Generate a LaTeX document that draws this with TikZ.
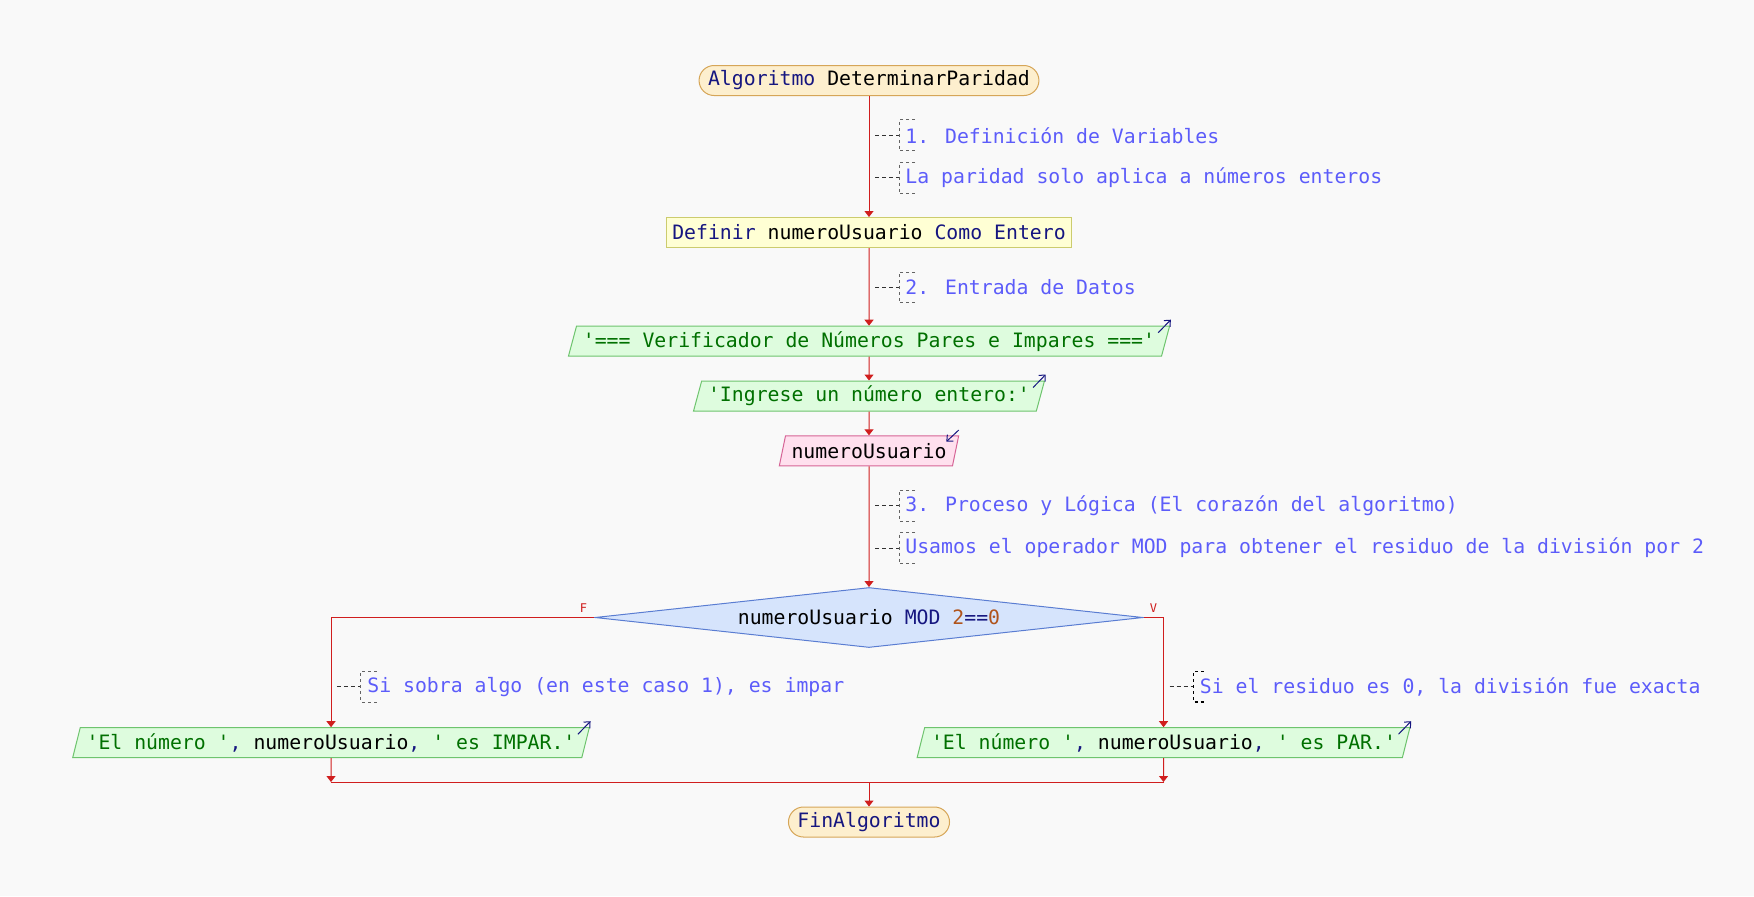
\documentclass[tikz,border=0pt]{standalone}
\usepackage{fontspec}
\usepackage{tikz}
\usetikzlibrary{arrows.meta}
\usetikzlibrary{positioning}
\usetikzlibrary{shapes.geometric}
\newfontfamily\mono{DejaVu Sans Mono}[Ligatures=TeXOff]
\definecolor{fondo}{RGB}{249,249,249}
\definecolor{azulkw}{RGB}{22,22,128}
\definecolor{verdecad}{RGB}{0,112,0}
\definecolor{nrocol}{RGB}{176,84,28}
\definecolor{coment}{RGB}{92,92,250}
\definecolor{rojo}{RGB}{208,30,30}
\definecolor{bordeTerm}{RGB}{214,166,88}
\definecolor{rellenoTerm}{RGB}{253,239,206}
\definecolor{bordeProc}{RGB}{204,204,110}
\definecolor{rellenoProc}{RGB}{255,255,212}
\definecolor{bordeSal}{RGB}{110,196,110}
\definecolor{rellenoSal}{RGB}{222,252,222}
\definecolor{bordeEnt}{RGB}{214,100,150}
\definecolor{rellenoEnt}{RGB}{255,224,238}
\definecolor{bordeDec}{RGB}{90,125,210}
\definecolor{rellenoDec}{RGB}{214,228,252}
\newcommand{\kw}[1]{\textcolor{azulkw}{#1}}
\newcommand{\nro}[1]{\textcolor{nrocol}{#1}}
\newcommand{\ident}[1]{\textcolor{black}{#1}}
\tikzstyle{every node}+=[inner sep=0pt, font=\mono\fontsize{9.9}{11}\selectfont]
\tikzstyle{terminal} = [rectangle, draw=bordeTerm, fill=rellenoTerm, line width=0.5pt, rounded corners=7.5pt, minimum height=15pt, inner xsep=4.5pt, text=azulkw]
\tikzstyle{proceso} = [rectangle, draw=bordeProc, fill=rellenoProc, line width=0.5pt, minimum height=15pt, inner xsep=3pt]
\tikzstyle{salida} = [trapezium, trapezium left angle=68, trapezium right angle=112, trapezium stretches=true, draw=bordeSal, fill=rellenoSal, line width=0.5pt, minimum height=15pt, inner xsep=3.2pt, text=verdecad]
\tikzstyle{entrada} = [trapezium, trapezium left angle=68, trapezium right angle=112, trapezium stretches=true, draw=bordeEnt, fill=rellenoEnt, line width=0.5pt, minimum height=15pt, inner xsep=3pt]
\tikzstyle{decision} = [diamond, aspect=9, draw=bordeDec, fill=rellenoDec, line width=0.5pt, minimum width=274pt, minimum height=30pt]
\tikzstyle{linea} = [draw=rojo, line width=0.5pt, -{Triangle[width=4.5pt,length=3pt]}]
\tikzstyle{conector} = [draw=rojo, line width=0.5pt]
\tikzstyle{comentario} = [anchor=west, text=coment, inner xsep=3pt, minimum height=15pt]
\tikzstyle{guia} = [draw={rgb,255:red,50;green,50;blue,50}, line width=0.5pt, dash pattern=on 2pt off 1.5pt]
\tikzstyle{corchete} = [draw={rgb,255:red,100;green,100;blue,100}, line width=0.5pt, dash pattern=on 1.5pt off 1.5pt]
\tikzstyle{corcheteSel} = [draw=black, line width=0.9pt, dash pattern=on 1.5pt off 1.5pt]
\tikzstyle{icono} = [draw=azulkw, line width=0.5pt, -{Straight Barb[length=2.4pt,width=4.4pt]}]
\tikzstyle{rotulo} = [text=rojo, font=\mono\fontsize{6}{6}\selectfont]

\begin{document}
\begin{tikzpicture}[node distance=2cm, auto]
            \fill[fondo] (-434.5pt,40.25pt) rectangle (442.5pt,-407.75pt);
            % Place nodes
            \node [terminal] (inicio) at (0,0) {Algoritmo \ident{DeterminarParidad}};
            \node [proceso, below of=inicio, node distance=76pt] (definir) {\kw{Definir} numeroUsuario \kw{Como Entero}};
            \node [salida, below of=definir, node distance=54.35pt] (titulo) {'=== Verificador de Números Pares e Impares ==='};
            \node [salida, below of=titulo, node distance=27.4pt] (pedir) {'Ingrese un número entero:'};
            \node [entrada, below of=pedir, node distance=27.4pt] (leer) {numeroUsuario};
            \node [decision, below of=leer, node distance=83.35pt] (esPar) {numeroUsuario \kw{MOD} \nro{2}\kw{==}\nro{0}};
            \node [salida, below of=esPar, node distance=62.6pt, xshift=-269pt] (impar) {'El número '\kw{,} \ident{numeroUsuario}\kw{,} ' es IMPAR.'};
            \node [salida, below of=esPar, node distance=62.6pt, xshift=147.25pt] (par) {'El número '\kw{,} \ident{numeroUsuario}\kw{,} ' es PAR.'};
            \node [terminal, below of=esPar, node distance=102.25pt] (fin) {FinAlgoritmo};
            \node [rotulo] (rotF) at ([xshift=-5.5pt,yshift=4.75pt]esPar.west) {F};
            \node [rotulo] (rotV) at ([xshift=5pt,yshift=4.75pt]esPar.east) {V};
            % Comments
            \coordinate [below of=inicio, node distance=27.4pt, xshift=3pt] (p1);
            \node [comentario] (c1) at ([xshift=12pt]p1) {1. Definición de Variables};
            \coordinate [below of=inicio, node distance=48.7pt, xshift=3pt] (p2);
            \node [comentario] (c2) at ([xshift=12pt]p2) {La paridad solo aplica a números enteros};
            \coordinate [below of=definir, node distance=27.5pt, xshift=3pt] (p3);
            \node [comentario] (c3) at ([xshift=12pt]p3) {2. Entrada de Datos};
            \coordinate [below of=leer, node distance=27.4pt, xshift=3pt] (p4);
            \node [comentario] (c4) at ([xshift=12pt]p4) {3. Proceso y Lógica (El corazón del algoritmo)};
            \coordinate [below of=leer, node distance=48.65pt, xshift=3pt] (p5);
            \node [comentario] (c5) at ([xshift=12pt]p5) {Usamos el operador MOD para obtener el residuo de la división por 2};
            \coordinate [above of=impar, node distance=27.95pt, xshift=3pt] (p6);
            \node [comentario] (c6) at ([xshift=12pt]p6) {Si sobra algo (en este caso 1), es impar};
            \coordinate [above of=par, node distance=27.95pt, xshift=3pt] (p7);
            \node [comentario] (c7) at ([xshift=12pt]p7) {Si el residuo es 0, la división fue exacta};
            \coordinate [below of=impar, node distance=19.65pt] (unionI);
            \coordinate [below of=par, node distance=19.65pt] (unionD);
            % Draw edges
            \path [linea] (inicio) -- (definir);
            \path [linea] (definir) -- (titulo);
            \path [linea] (titulo) -- (pedir);
            \path [linea] (pedir) -- (leer);
            \path [linea] (leer) -- (esPar);
            \path [linea] (esPar.west) -| (impar.north);
            \path [linea] (esPar.east) -| (par.north);
            \path [linea] (impar) -- (unionI);
            \path [linea] (par) -- (unionD);
            \path [conector] (unionI) -- (unionD);
            \path [linea] (unionI -| fin) -- (fin);
            % Comment brackets
            \foreach \nota/\punto in {c1/p1, c2/p2, c3/p3, c4/p4, c5/p5, c6/p6, c7/p7} {
              \path [guia] (\punto) -- (\nota.west);
            }
            \foreach \nota in {c1, c2, c3, c4, c5, c6}
              \path [corchete] ([xshift=8pt]\nota.north west) -- (\nota.north west) -- (\nota.south west) -- ([xshift=8pt]\nota.south west);
            \path [corcheteSel] ([xshift=5pt]c7.north west) -- (c7.north west) -- (c7.south west) -- ([xshift=5pt]c7.south west);
            % Output / input marks
            \foreach \nodo in {titulo, pedir, impar, par}
              \path [icono] ([xshift=-6pt,yshift=-3.5pt]\nodo.top right corner) -- ([xshift=0.3pt,yshift=3pt]\nodo.top right corner);
            \path [icono] ([xshift=-0.3pt,yshift=2.6pt]leer.top right corner) -- ([xshift=-6.5pt,yshift=-3.2pt]leer.top right corner);
          \end{tikzpicture}
\end{document}
